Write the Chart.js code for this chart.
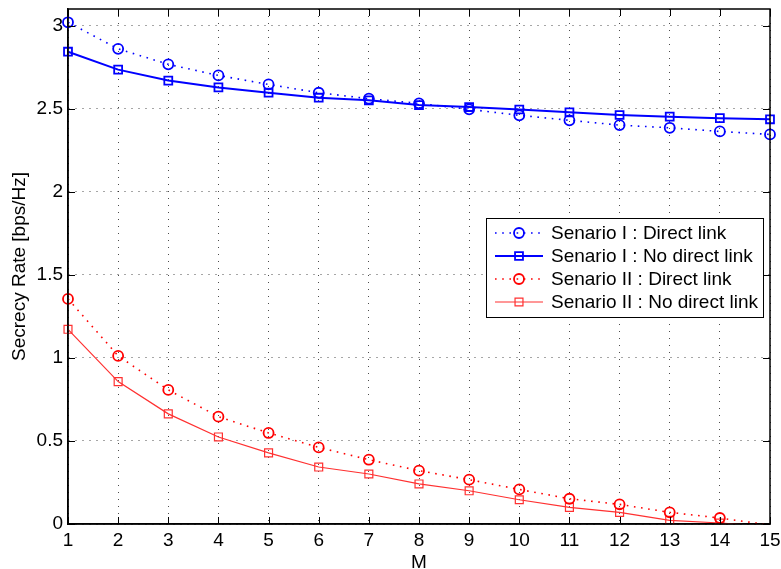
<!DOCTYPE html>
<html>
<head>
<meta charset="utf-8">
<script src="https://cdn.jsdelivr.net/npm/chart.js@4/dist/chart.umd.min.js"></script>
<style>
  html, body { margin: 0; padding: 0; background: #fff; }
  #wrap { width: 781px; height: 569px; }
</style>
</head>
<body>
<div id="wrap"><canvas id="myChart" width="781" height="569"></canvas></div>
<script>
// values
const M = [1, 2, 3, 4, 5, 6, 7, 8, 9, 10, 11, 12, 13, 14, 15];
const yTicks = [0, 0.5, 1, 1.5, 2, 2.5, 3];
const s1Direct   = [3.02, 2.86, 2.767, 2.70, 2.646, 2.596, 2.56, 2.532, 2.496, 2.46, 2.43, 2.401, 2.385, 2.363, 2.345];
const s1NoDirect = [2.843, 2.735, 2.669, 2.628, 2.596, 2.566, 2.55, 2.522, 2.51, 2.495, 2.478, 2.462, 2.452, 2.443, 2.436];
const s2Direct   = [1.355, 1.012, 0.807, 0.646, 0.548, 0.461, 0.387, 0.321, 0.267, 0.208, 0.152, 0.118, 0.07, 0.036, -0.006];
const s2NoDirect = [1.172, 0.857, 0.663, 0.524, 0.428, 0.343, 0.301, 0.241, 0.2, 0.146, 0.1, 0.07, 0.022, 0.006, -0.013];
const seriesNames = [
    'Senario I : Direct link',
    'Senario I : No direct link',
    'Senario II : Direct link',
    'Senario II : No direct link'
];

const FONT = 'Arial, "Liberation Sans", Helvetica, sans-serif';
const pts = arr => arr.map((v, i) => ({ x: M[i], y: v }));
const hideBelow = r => ctx => (ctx.raw && ctx.raw.y < 0 ? 0 : r);
const clipBox = { left: 10, top: 10, right: 10, bottom: 0 };

// matlab style box: top/right border and inward ticks on all sides
const matlabBox = {
    id: 'matlabBox',
    afterDatasetsDraw(chart) {
        const { ctx, chartArea: a, scales } = chart;
        const t = 7;
        ctx.save();
        ctx.strokeStyle = '#000';
        ctx.lineWidth = 1;
        ctx.beginPath();
        scales.x.ticks.forEach(tk => {
            const px = Math.round(scales.x.getPixelForValue(tk.value)) + 0.5;
            ctx.moveTo(px, a.bottom); ctx.lineTo(px, a.bottom - t);
            ctx.moveTo(px, a.top); ctx.lineTo(px, a.top + t);
        });
        scales.y.ticks.forEach(tk => {
            const py = Math.round(scales.y.getPixelForValue(tk.value)) + 0.5;
            ctx.moveTo(a.left, py); ctx.lineTo(a.left + t, py);
            ctx.moveTo(a.right, py); ctx.lineTo(a.right - t, py);
        });
        ctx.stroke();
        ctx.lineWidth = 1.5;
        ctx.strokeRect(a.left, a.top, a.right - a.left, a.bottom - a.top);
        ctx.restore();
    }
};

// legend box inside the axes, like matlab 'legend'
const innerLegend = {
    id: 'innerLegend',
    afterDraw(chart) {
        const { ctx } = chart;
        const x0 = 486, y0 = 218, w = 277, h = 99, row = 23;
        ctx.save();
        ctx.fillStyle = '#fff';
        ctx.fillRect(x0, y0, w, h);
        ctx.strokeStyle = '#000';
        ctx.lineWidth = 1;
        ctx.strokeRect(x0 + 0.5, y0 + 0.5, w, h);
        chart.data.datasets.forEach((ds, i) => {
            const y = y0 + 15 + i * row;
            ctx.strokeStyle = ds.borderColor;
            ctx.lineWidth = ds.borderWidth;
            ctx.setLineDash(ds.borderDash || []);
            ctx.beginPath();
            ctx.moveTo(495, y);
            ctx.lineTo(543, y);
            ctx.stroke();
            ctx.setLineDash([]);
            ctx.lineWidth = ds.pointBorderWidth;
            ctx.fillStyle = 'rgba(0,0,0,0)';
            Chart.helpers.drawPoint(ctx, {
                pointStyle: ds.pointStyle, rotation: 0,
                radius: ds.legendRadius, borderWidth: ds.pointBorderWidth
            }, 519, y);
            ctx.fillStyle = '#000';
            ctx.font = '19px ' + FONT;
            ctx.textBaseline = 'middle';
            ctx.textAlign = 'left';
            ctx.fillText(ds.label, 551, y + 1);
        });
        ctx.restore();
    }
};

const ctx = document.getElementById('myChart').getContext('2d');
const chart = new Chart(ctx, {
    type: 'line',
    data: {
        datasets: [
            {
                label: seriesNames[0],
                data: pts(s1Direct),
                borderColor: '#0000ff',
                borderWidth: 1.6,
                borderDash: [1.6, 5.6],
                pointStyle: 'circle',
                pointRadius: hideBelow(5),
                legendRadius: 5,
                pointBorderWidth: 1.8,
                pointBackgroundColor: 'rgba(0,0,0,0)',
                pointBorderColor: '#0000ff',
                tension: 0,
                clip: clipBox
            },
            {
                label: seriesNames[1],
                data: pts(s1NoDirect),
                borderColor: '#0000ff',
                borderWidth: 2,
                pointStyle: 'rect',
                pointRadius: hideBelow(5.6),
                legendRadius: 5.6,
                pointBorderWidth: 1.8,
                pointBackgroundColor: 'rgba(0,0,0,0)',
                pointBorderColor: '#0000ff',
                tension: 0,
                clip: clipBox
            },
            {
                label: seriesNames[2],
                data: pts(s2Direct),
                borderColor: '#ff0000',
                borderWidth: 1.6,
                borderDash: [1.6, 5.6],
                pointStyle: 'circle',
                pointRadius: hideBelow(5),
                legendRadius: 5,
                pointBorderWidth: 1.8,
                pointBackgroundColor: 'rgba(0,0,0,0)',
                pointBorderColor: '#ff0000',
                tension: 0,
                clip: clipBox
            },
            {
                label: seriesNames[3],
                data: pts(s2NoDirect),
                borderColor: '#ff3030',
                borderWidth: 1.2,
                pointStyle: 'rect',
                pointRadius: hideBelow(5.6),
                legendRadius: 5.6,
                pointBorderWidth: 1.2,
                pointBackgroundColor: 'rgba(0,0,0,0)',
                pointBorderColor: '#ff3030',
                tension: 0,
                clip: clipBox
            }
        ]
    },
    options: {
        responsive: false,
        animation: false,
        devicePixelRatio: 1,
        layout: { padding: { left: 0, right: 11, top: 9, bottom: 0 } },
        plugins: {
            legend: { display: false },
            tooltip: { enabled: false }
        },
        scales: {
            x: {
                type: 'linear',
                min: 1,
                max: 15,
                ticks: {
                    stepSize: 1,
                    padding: 5,
                    color: '#000',
                    font: { family: FONT, size: 19 },
                    maxRotation: 0,
                    autoSkip: false
                },
                grid: {
                    drawTicks: false,
                    color: 'rgba(0,0,0,0.7)',
                    lineWidth: 1
                },
                border: { display: true, color: '#000', width: 1.5, dash: [1, 6] },
                title: {
                    display: true,
                    text: 'M',
                    color: '#000',
                    font: { family: FONT, size: 19, lineHeight: 0.7 },
                    padding: { top: 0, bottom: 0 }
                },
                afterFit: s => {
                    s.height = 45;
                    s.paddingLeft = 0;
                    s.paddingRight = 0;
                }
            },
            y: {
                min: 0,
                max: 3.1,
                afterBuildTicks: s => {
                    s.ticks = yTicks.map(v => ({ value: v }));
                },
                ticks: {
                    padding: 5,
                    color: '#000',
                    font: { family: FONT, size: 19 },
                    callback: v => String(v)
                },
                grid: {
                    drawTicks: false,
                    color: 'rgba(0,0,0,0.7)',
                    lineWidth: 1
                },
                border: { display: true, color: '#000', width: 1.5, dash: [1, 6] },
                title: {
                    display: true,
                    text: 'Secrecy Rate [bps/Hz]',
                    color: '#000',
                    font: { family: FONT, size: 19 },
                    padding: { top: 8, bottom: 0 }
                },
                afterFit: s => {
                    s.width = 68;
                    s.paddingTop = 0;
                    s.paddingBottom = 0;
                }
            }
        }
    },
    plugins: [matlabBox, innerLegend]
});
</script>
</body>
</html>
